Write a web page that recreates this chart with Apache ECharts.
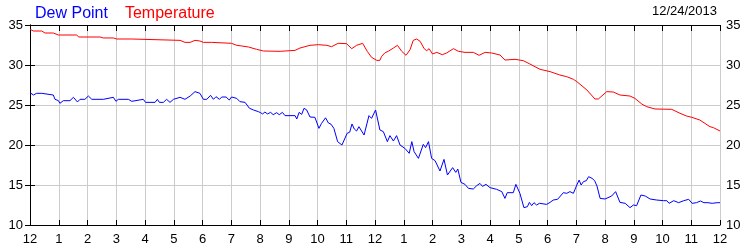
<!DOCTYPE html>
<html>
<head>
<meta charset="utf-8">
<script src="https://cdn.jsdelivr.net/npm/echarts@6/dist/echarts.min.js"></script>
<style>
html,body{margin:0;padding:0;background:#fff;}
#chart{width:750px;height:250px;}
</style>
</head>
<body>
<div id="chart"></div>
<script>
// Hours since midnight (x) and readings (°F)
var dewHours = [0,0.12,0.23,0.41,0.46,0.81,0.87,0.99,1.04,1.16,1.39,1.51,1.65,1.74,1.91,2.03,2.15,2.55,2.61,2.90,2.99,3.07,3.42,3.54,3.59,3.94,4.02,4.35,4.43,4.50,4.64,4.75,4.87,4.99,5.22,5.39,5.57,5.74,5.91,6.03,6.15,6.28,6.38,6.47,6.59,6.67,6.82,6.93,7.01,7.19,7.30,7.48,7.63,7.77,7.94,8.02,8.09,8.17,8.26,8.37,8.46,8.58,8.67,8.78,8.87,9.22,9.28,9.36,9.45,9.53,9.62,9.74,9.91,10.05,10.14,10.28,10.38,10.47,10.57,10.70,10.85,11.03,11.12,11.20,11.28,11.36,11.44,11.62,11.79,11.88,12.02,12.17,12.29,12.43,12.52,12.64,12.75,12.87,13.04,13.19,13.28,13.36,13.51,13.68,13.76,13.86,13.97,14.09,14.26,14.40,14.52,14.70,14.81,14.88,14.99,15.13,15.25,15.42,15.54,15.65,15.74,15.86,16.00,16.23,16.41,16.47,16.52,16.60,16.81,16.90,17.04,17.18,17.30,17.37,17.45,17.53,17.62,17.72,17.97,18.09,18.20,18.35,18.55,18.67,18.78,18.90,19.02,19.10,19.17,19.25,19.35,19.43,19.55,19.64,19.72,19.83,20.00,20.23,20.37,20.52,20.70,20.87,20.99,21.10,21.25,21.40,21.57,21.80,22.04,22.15,22.23,22.39,22.56,22.74,22.91,23.03,23.18,23.32,23.44,23.58,23.73,23.90,24.00];
var dewValues = [26.54,26.25,26.46,26.46,26.25,26.25,25.71,25.54,25.21,25.54,25.54,25.96,25.38,25.71,25.71,26.12,25.71,25.71,25.96,25.96,25.46,25.71,25.71,25.46,25.71,25.71,25.33,25.33,25.71,25.33,25.33,25.71,25.33,25.71,25.96,25.71,26.12,26.67,26.46,25.71,25.71,26.21,25.71,26.04,25.71,26.0,26.0,25.62,26.0,25.83,25.42,25.33,24.6,24.38,24.17,24.04,23.88,24.12,23.88,24.08,23.79,24.04,23.79,24.08,23.67,23.67,23.25,24.08,23.83,24.58,24.4,23.5,23.46,22.08,22.7,23.4,22.75,22.6,22.08,20.42,20.0,21.46,21.6,22.63,22.0,21.75,22.29,21.25,23.67,23.33,24.38,21.88,21.67,20.42,21.17,20.5,21.17,20.0,19.58,18.96,20.42,19.17,18.33,20.08,19.67,20.42,18.33,18.04,16.75,18.2,16.25,17.17,16.58,17.0,15.33,15.08,14.58,14.5,14.92,15.2,14.83,15.08,14.67,14.46,14.17,14.17,13.33,14.04,14.04,15.08,13.96,12.17,12.29,12.83,12.42,12.79,12.5,12.71,12.58,12.83,13.12,13.21,14.04,13.96,14.17,13.96,15.0,15.62,15.0,15.42,15.54,16.04,15.83,15.54,14.88,13.33,13.25,13.62,14.17,12.83,12.71,12.17,12.5,12.42,13.75,13.62,13.25,13.12,13.04,13.04,12.71,13.04,12.79,13.04,13.21,12.71,12.79,13.0,12.79,12.79,12.71,12.79,12.79];
var tempHours = [0,0.12,0.41,0.52,0.81,0.99,1.62,1.70,2.44,2.55,2.90,3.02,3.54,3.59,5.22,5.39,5.57,5.74,5.91,6.03,6.32,6.38,7.01,7.19,7.36,7.60,7.88,8.12,8.70,9.04,9.22,9.39,9.74,10.03,10.32,10.49,10.72,11.01,11.19,11.36,11.57,11.73,11.88,12.06,12.17,12.23,12.35,12.46,12.64,12.78,12.93,13.08,13.22,13.33,13.45,13.57,13.71,13.80,13.88,14.00,14.15,14.34,14.49,14.73,14.90,15.13,15.42,15.62,15.83,16.06,16.35,16.52,16.87,17.16,17.39,17.74,18.09,18.43,18.67,18.90,19.02,19.37,19.65,19.77,20.06,20.29,20.52,20.87,21.04,21.28,21.45,21.74,22.32,22.61,22.84,23.02,23.30,23.65,23.77,24.00];
var tempValues = [34.46,34.25,34.25,34.0,34.0,33.75,33.75,33.5,33.5,33.38,33.38,33.25,33.25,33.08,33.08,32.83,32.83,33.08,33.0,32.83,32.83,32.71,32.71,32.46,32.38,32.25,31.96,31.75,31.71,31.79,31.83,32.12,32.46,32.54,32.46,32.29,32.71,32.67,32.04,32.46,32.71,31.71,30.96,30.58,30.58,31.08,31.54,31.71,32.12,32.46,31.71,31.21,31.92,33.08,33.25,32.96,32.04,31.79,32.04,31.38,31.58,31.29,31.5,32.04,31.71,31.58,31.58,31.21,31.58,31.5,31.25,30.62,30.71,30.54,30.12,29.46,29.17,28.75,28.54,28.21,27.92,26.88,25.75,25.75,26.67,26.62,26.25,26.12,25.83,25.12,24.79,24.5,24.46,23.96,23.62,23.46,23.12,22.29,22.17,21.75];
var hourLabels = ['12','1','2','3','4','5','6','7','8','9','10','11','12','1','2','3','4','5','6','7','8','9','10','11','12'];
var yTicks = [10,15,20,25,30,35];
var dateText = '12/24/2013';

function pairs(xs, ys){ var out=[]; for(var i=0;i<xs.length;i++){ out.push([xs[i], ys[i]]); } return out; }

var FONT = "'Liberation Sans', Arial, sans-serif";
var chart = echarts.init(document.getElementById('chart'), null, {renderer:'canvas'});
var axisLineStyle = {color:'#000', width:1};
chart.setOption({
  animation:false,
  backgroundColor:'#fff',
  title:{text:dateText, right:33, top:5, padding:0, textStyle:{fontFamily:FONT, fontSize:13, fontWeight:'normal', color:'#000'}},
  legend:{
    left:29, top:6, itemWidth:0, itemHeight:0, itemGap:11, padding:0,
    data:[{name:'Dew Point', textStyle:{color:'#0000ff'}},{name:'Temperature', textStyle:{color:'#ff0000'}}],
    textStyle:{fontFamily:FONT, fontSize:16},
    selectedMode:false
  },
  grid:{left:30, right:30, top:25, bottom:25, containLabel:false},
  xAxis:[{
    type:'value', min:0, max:24, interval:1, position:'bottom',
    axisLine:{show:true, lineStyle:axisLineStyle},
    axisTick:{show:true, inside:true, length:5, lineStyle:axisLineStyle},
    axisLabel:{show:true, margin:8, fontFamily:FONT, fontSize:13, color:'#000', formatter:function(v){return hourLabels[Math.round(v)];}, showMinLabel:true, showMaxLabel:true},
    splitLine:{show:true, lineStyle:{color:'#cccccc', width:1}}
  },{
    type:'value', min:0, max:24, interval:1, position:'top',
    axisLine:{show:true, lineStyle:axisLineStyle},
    axisTick:{show:true, inside:true, length:6, lineStyle:axisLineStyle},
    axisLabel:{show:false},
    splitLine:{show:false}
  }],
  yAxis:[{
    type:'value', min:yTicks[0], max:yTicks[yTicks.length-1], interval:5, position:'left',
    axisLine:{show:true, lineStyle:axisLineStyle},
    axisTick:{show:true, inside:true, length:5, lineStyle:axisLineStyle},
    axisLabel:{show:true, margin:7, fontFamily:FONT, fontSize:13, color:'#000'},
    splitLine:{show:true, lineStyle:{color:'#cccccc', width:1}}
  },{
    type:'value', min:yTicks[0], max:yTicks[yTicks.length-1], interval:5, position:'right',
    axisLine:{show:true, lineStyle:axisLineStyle},
    axisTick:{show:true, inside:true, length:5, lineStyle:axisLineStyle},
    axisLabel:{show:true, margin:6, fontFamily:FONT, fontSize:13, color:'#000'},
    splitLine:{show:false}
  }],
  series:[{
    name:'Dew Point', type:'line', xAxisIndex:0, yAxisIndex:0,
    data:pairs(dewHours, dewValues), showSymbol:false, symbol:'none',
    lineStyle:{color:'#0000ff', width:1}, itemStyle:{color:'#0000ff'}
  },{
    name:'Temperature', type:'line', xAxisIndex:0, yAxisIndex:0,
    data:pairs(tempHours, tempValues), showSymbol:false, symbol:'none',
    lineStyle:{color:'#ff0000', width:1}, itemStyle:{color:'#ff0000'}
  }]
});
</script>
</body>
</html>
